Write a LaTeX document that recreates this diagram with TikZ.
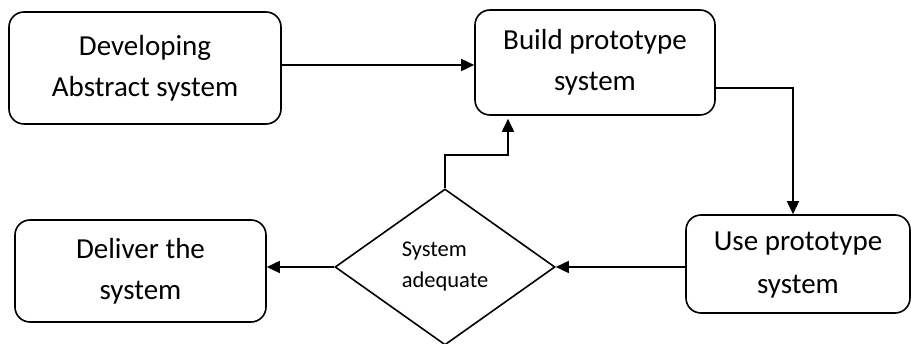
\documentclass[tikz,border=0pt]{standalone}
\usepackage{fontspec}
\setmainfont{Carlito}
\usetikzlibrary{shapes.geometric,arrows.meta}
\begin{document}
\begin{tikzpicture}[x=1pt,y=-1pt,
  box/.style={draw,line width=1.6pt,rounded corners=15pt,align=center,
    font=\fontsize{29}{41}\selectfont,inner sep=0pt},
  dec/.style={draw,diamond,line width=1.6pt,align=left,inner sep=0pt,
    minimum width=220pt,minimum height=156pt,font=\fontsize{22.5}{31}\selectfont},
  arr/.style={line width=1.6pt,-{Triangle[length=13pt,width=12pt]}}]
\useasboundingbox (0,0) rectangle (911,344);
\node[box,minimum width=272pt,minimum height=112pt] (b1) at (145,68) {Developing\\Abstract system};
\node[box,minimum width=240pt,minimum height=105pt] (b2) at (595,62.5) {Build prototype\\system};
\node[box,minimum width=224pt,minimum height=98pt] (b3) at (798,264) {\raisebox{-6pt}{\begin{tabular}{@{}c@{}}Use prototype\\[2pt]system\end{tabular}}};
\node[box,minimum width=251pt,minimum height=102pt] (b4) at (140.5,271) {Deliver the\\system};
\node[dec] (d) at (445,267) {System\\adequate};
\coordinate (c1) at (793,88);
\coordinate (c2) at (508,155);
\draw[arr] ([yshift=3pt]b1.east) -- ([yshift=3pt]b1.east -| b2.west);
\draw[arr] ([yshift=-25.5pt]b2.east) -- (c1) -- (c1 |- b3.north);
\draw[arr] (b3.west |- d.east) -- (d.east);
\draw[arr] (d.west) -- (d.west -| b4.east);
\draw[arr,shorten >=3pt] (d.north) |- (c2) -- (c2 |- b2.south);
\end{tikzpicture}
\end{document}
